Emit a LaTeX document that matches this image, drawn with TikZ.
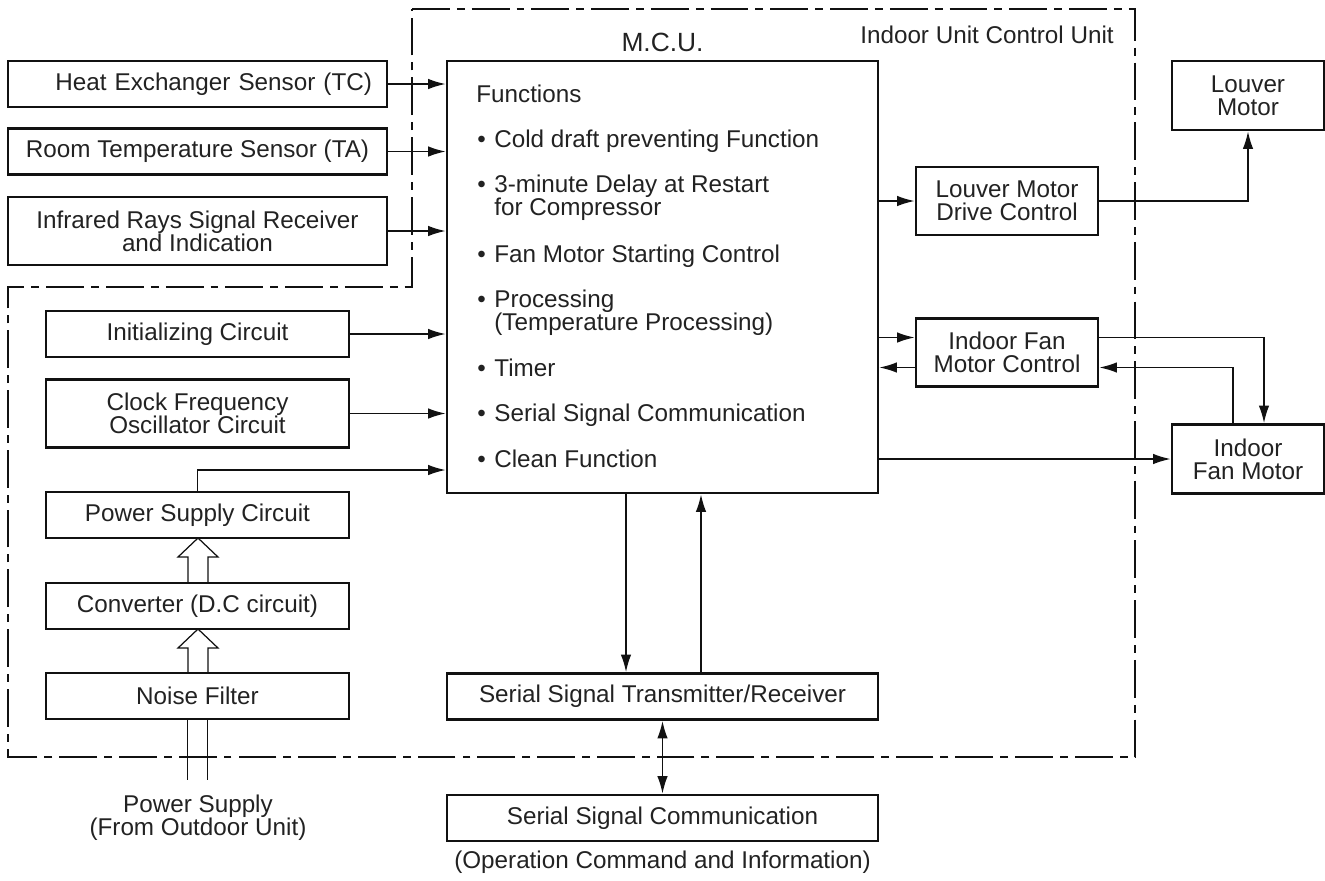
\documentclass[tikz,border=0pt]{standalone}
\usepackage{fontspec}
\setmainfont{Liberation Sans}
\usetikzlibrary{arrows.meta, positioning, calc}
\definecolor{inkBlack}{HTML}{111111}
\definecolor{textGrey}{HTML}{222222}
\newcommand{\diagFont}{\fontsize{13.8}{13}\selectfont}
\newcommand{\DrawHollowUp}[3]{
    \draw[hollowArrow] (#1-10,#2) -- (#1-10,#3+19) -- (#1-20,#3+19) -- (#1,#3)
        -- (#1+20,#3+19) -- (#1+10,#3+19) -- (#1+10,#2);
}
\tikzset{
    % Boxes
    blockBox/.style={rectangle, draw=inkBlack, line width=1.6pt, inner sep=0pt,
        align=center, text=textGrey, font=\diagFont},
    sensorBox/.style={blockBox, minimum width=7.58cm, minimum height=0.92cm},
    circuitBox/.style={blockBox, minimum width=6.06cm, minimum height=0.92cm},
    driveBox/.style={blockBox, minimum width=3.64cm, minimum height=1.36cm},
    motorBox/.style={blockBox, minimum width=3.04cm, minimum height=1.38cm},
    wideBox/.style={blockBox, minimum width=8.62cm, minimum height=0.92cm},
    twoLine/.style={minimum height=1.36cm},
    plainText/.style={inner sep=0pt, text=textGrey, font=\diagFont},
    fnLine/.style={plainText, anchor=base west},
    % Connectors
    sigArrow/.style={-{Latex[length=10pt,width=6pt]}, draw=inkBlack, line width=0.85pt},
    sigBoth/.style={{Latex[length=10pt,width=6pt]}-{Latex[length=10pt,width=6pt]}, draw=inkBlack, line width=0.85pt},
    hollowArrow/.style={draw=inkBlack, line width=0.7pt, line join=miter},
    unitBorder/.style={draw=inkBlack, line width=1.5pt, dash pattern=on 21.5pt off 4pt on 4.5pt off 4pt}
}
\begin{document}
\begin{tikzpicture}[x=0.02cm, y=-0.02cm]
    \useasboundingbox (0,0) rectangle (1325,880);

    % Indoor unit control unit border
    \draw[unitBorder] (412,9) -- (1135,9) -- (1135,757) -- (8,757) -- (8,287) -- (412,287) -- cycle;
    \node[plainText] (unitTitle) at (987,35) {Indoor Unit Control Unit};

    % M.C.U.
    \node[plainText, font=\fontsize{15}{15}\selectfont] (mcuTitle) at (662.5,42) {M.C.U.};
    \node[blockBox, minimum width=8.62cm, minimum height=8.64cm] (mcu) at (662.5,277) {};
    \node[fnLine] (fnTitle) at (476,102) {Functions};
    \foreach \y in {147,192,262,307,376,421,467}
        \node[fnLine] (bul\y) at (477,\y) {\textbullet};
    \node[fnLine] (fnCold) at (494,147) {Cold draft preventing Function};
    \node[fnLine] (fnDelay) at (494,192) {3-minute Delay at Restart};
    \node[fnLine] (fnDelayB) at (494,215) {for Compressor};
    \node[fnLine] (fnFan) at (494,262) {Fan Motor Starting Control};
    \node[fnLine] (fnProc) at (494,307) {Processing};
    \node[fnLine] (fnProcB) at (494,330) {(Temperature Processing)};
    \node[fnLine] (fnTimer) at (494,376) {Timer};
    \node[fnLine] (fnSerial) at (494,421) {Serial Signal Communication};
    \node[fnLine] (fnClean) at (494,467) {Clean Function};

    % Sensors
    \node[sensorBox, inner xsep=0.3cm, text width=6.98cm, align=right] (he) at (197.5,84) {Heat Exchanger Sensor (TC)};
    \node[sensorBox] (rt) at (197.5,151.5) {Room Temperature Sensor (TA)};
    \node[sensorBox, twoLine] (ir) at (197.5,231) {Infrared Rays Signal Receiver\\and Indication};

    % Circuits
    \node[circuitBox] (init) at (197.5,334) {Initializing Circuit};
    \node[circuitBox, twoLine] (clock) at (197.5,413.5) {Clock Frequency\\Oscillator Circuit};
    \node[circuitBox] (psc) at (197.5,515) {Power Supply Circuit};
    \node[circuitBox] (conv) at (197.5,606) {Converter (D.C circuit)};
    \node[circuitBox] (noise) at (197.5,696) {Noise Filter};
    \node[plainText, align=center] (pwrSrc) at (198,818) {Power Supply\\(From Outdoor Unit)};

    % Outputs
    \node[driveBox] (lmdc) at (1007,201) {Louver Motor\\Drive Control};
    \node[motorBox] (lm) at (1248,95.5) {Louver\\Motor};
    \node[driveBox] (ifmc) at (1007,352.5) {Indoor Fan\\Motor Control};
    \node[motorBox] (ifm) at (1248,459) {Indoor\\Fan Motor};

    % Serial
    \node[wideBox] (str) at (662.5,696.5) {Serial Signal Transmitter/Receiver};
    \node[wideBox] (ssc) at (662.5,818) {Serial Signal Communication};
    \node[plainText] (opNote) at (662.5,862) {(Operation Command and Information)};

    % Signal arrows
    \draw[sigArrow] (he.east) -- (he.east -| mcu.west);
    \draw[sigArrow] (rt.east) -- (rt.east -| mcu.west);
    \draw[sigArrow] (ir.east) -- (ir.east -| mcu.west);
    \draw[sigArrow] (init.east) -- (init.east -| mcu.west);
    \draw[sigArrow] (clock.east) -- (clock.east -| mcu.west);
    \coordinate (pwrIn) at (447,470);
    \draw[sigArrow] (psc.north) |- (pwrIn -| mcu.west);
    \draw[sigArrow] (mcu.east |- lmdc.west) -- (lmdc.west);
    \draw[sigArrow] (lmdc.east) -| (lm.south);
    \draw[sigArrow] ([yshift=0.3cm]ifmc.west -| mcu.east) -- ([yshift=0.3cm]ifmc.west);
    \draw[sigArrow] ([yshift=-0.3cm]ifmc.west) -- ([yshift=-0.3cm]ifmc.west -| mcu.east);
    \draw[sigArrow] ([yshift=0.3cm]ifmc.east) -| ([xshift=0.32cm]ifm.north);
    \draw[sigArrow] ([xshift=-0.3cm]ifm.north) |- ([yshift=-0.3cm]ifmc.east);
    \draw[sigArrow] (mcu.east |- ifm.west) -- (ifm.west);
    \draw[sigArrow] ([xshift=-0.73cm]mcu.south) -- ([xshift=-0.73cm]str.north);
    \draw[sigArrow] ([xshift=0.77cm]str.north) -- ([xshift=0.77cm]mcu.south);
    \draw[sigBoth] (str.south) -- (ssc.north);

    % Power path
    \DrawHollowUp{198}{583}{538}
    \DrawHollowUp{198}{673}{629}
    \draw[hollowArrow] ([xshift=-0.2cm]noise.south) -- ++(0,60);
    \draw[hollowArrow] ([xshift=0.2cm]noise.south) -- ++(0,60);
\end{tikzpicture}
\end{document}
